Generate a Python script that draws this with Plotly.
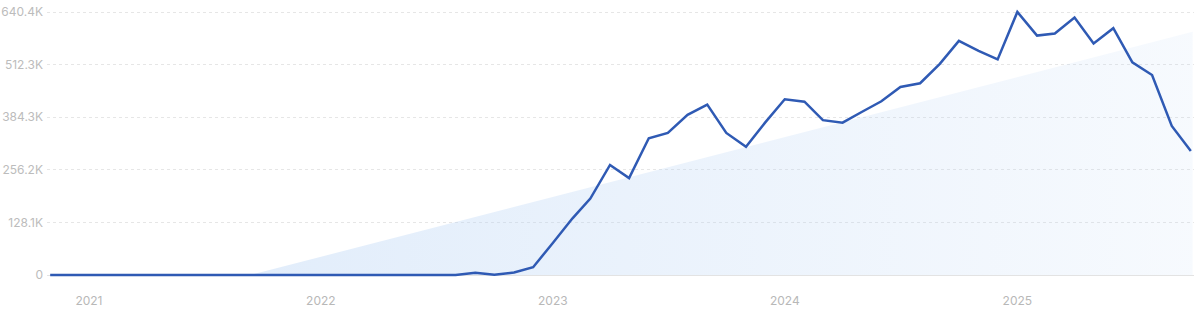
import pandas as pd
import plotly.graph_objects as go

# ---- data ----
start_month = "2020-11-01"
traffic = [
    0, 0, 0, 0, 0, 0, 0, 0, 0, 0, 0,           # Nov 2020 - Sep 2021
    0, 0, 0, 0, 0, 0, 0, 0, 0, 0, 0,           # Oct 2021 - Aug 2022
    5600, 500, 6000, 19000,                    # Sep - Dec 2022
    78000, 138000, 186000, 268000, 236000, 333000,
    346000, 390000, 415000, 346000, 312000, 371000,   # 2023
    428000, 422000, 377000, 371000, 397000, 423000,
    458000, 467000, 514000, 570000, 546000, 525000,   # 2024
    640425, 583000, 588000, 627000, 564000, 601000,
    518000, 487000, 363000, 302000,                    # Jan - Oct 2025
]
months = pd.date_range(start_month, periods=len(traffic), freq="MS")

year_ticks = ["2021-01-01", "2022-01-01", "2023-01-01", "2024-01-01", "2025-01-01"]
year_labels = ["2021", "2022", "2023", "2024", "2025"]
y_tick_labels = ["0", "128.1K", "256.2K", "384.3K", "512.3K", "640.4K"]

ymax = max(traffic)
y_tick_vals = [ymax * i / 5 for i in range(6)]

# axis ranges (a few px of padding so the line is not clipped)
x_range = [pd.Timestamp("2020-10-27"), pd.Timestamp("2025-10-06")]
pad = 9740
y_range = [-pad, ymax + pad]

# decorative background wedge, placed as fractions of the plot area
def fx(f):
    return x_range[0] + (x_range[1] - x_range[0]) * f

def fy(f):
    return y_range[0] + (y_range[1] - y_range[0]) * f

wedge_fx = [0.1773, 0.9988, 0.9988, 0.1773]
wedge_fy = [0.0148, 0.0148, 0.912, 0.0148]

fig = go.Figure()

fig.add_trace(go.Scatter(
    x=[fx(f) for f in wedge_fx], y=[fy(f) for f in wedge_fy],
    mode="lines", line=dict(width=0),
    fill="toself",
    fillgradient=dict(type="horizontal",
                      colorscale=[[0, "rgba(185,212,245,0.42)"],
                                  [1, "rgba(185,212,245,0.12)"]]),
    hoverinfo="skip", showlegend=False,
))

fig.add_trace(go.Scatter(
    x=months, y=traffic, mode="lines",
    line=dict(color="#2f5ab4", width=2.5),
    hoverinfo="skip", showlegend=False,
))

fig.update_layout(
    width=1200, height=312,
    margin=dict(l=47, r=6, t=8, b=33),
    paper_bgcolor="white", plot_bgcolor="white",
    font=dict(family="Inter", size=12, color="#b8b8b8"),
    xaxis=dict(
        type="date",
        range=x_range,
        tickvals=year_ticks, ticktext=year_labels,
        showgrid=False, zeroline=False, showline=False, ticks="",
        ticklabelstandoff=13, automargin=False,
        tickfont=dict(size=12, color="#b8b8b8"),
    ),
    yaxis=dict(
        range=y_range,
        tickvals=y_tick_vals, ticktext=y_tick_labels,
        showgrid=True, gridcolor="#e6e6e6", griddash="3px,3px", gridwidth=1,
        zeroline=True, zerolinecolor="#e3e3e3", zerolinewidth=1,
        showline=False, ticks="",
        ticklabelstandoff=3, automargin=False,
        tickfont=dict(size=12, color="#bcbcbc"),
    ),
)

fig.write_html("out.html")
